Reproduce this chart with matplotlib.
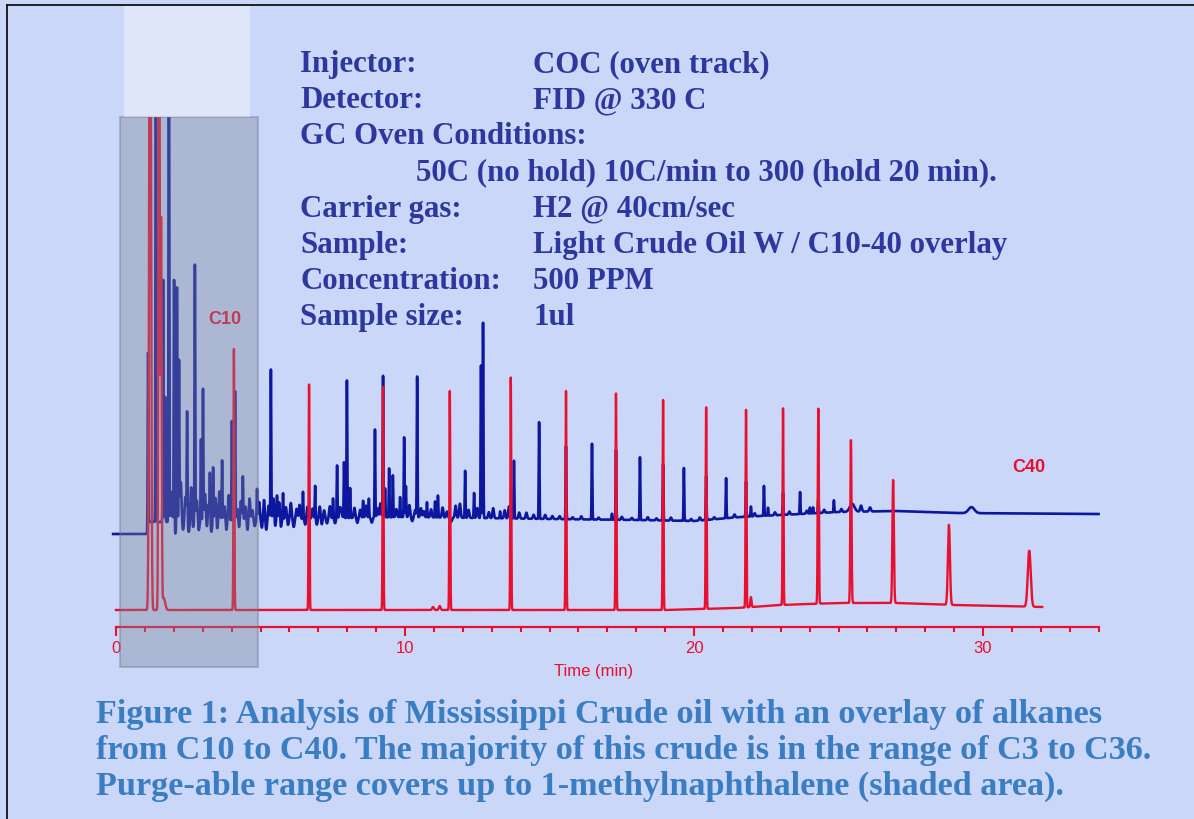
import numpy as np
import matplotlib.pyplot as plt
from matplotlib.patches import Rectangle
from matplotlib.ticker import MultipleLocator

# retention times (min) / peak heights (detector response, arbitrary) / widths (min)
# C10-C40 alkane standard (red)
red_base_t = [0.0, 19.0, 21.5, 23.0, 25.0, 27.0, 29.0, 32.05]
red_base_y = [0, 0, 2, 5, 7, 7, 5, 3]
red_peak_t = [1.18, 1.49, 1.56, 1.65, 4.08, 6.68, 9.24, 10.97, 11.2, 11.55, 13.66, 15.57,
              17.3, 18.93, 20.42, 21.8, 21.97, 23.08, 24.3, 25.43, 26.89, 28.82, 31.6]
red_peak_h = [800, 800, 389, 12, 261, 226, 223, 3, 4, 219, 233, 219,
              217, 210, 202, 198, 10, 197, 195, 163, 123, 80, 56]
red_peak_w = [0.03, 0.02, 0.02, 0.05, 0.015, 0.015, 0.015, 0.03, 0.03, 0.015, 0.015, 0.015,
              0.015, 0.015, 0.015, 0.015, 0.02, 0.015, 0.018, 0.02, 0.025, 0.035, 0.05]

# Mississippi crude oil (blue)
blue_base_t = [-0.1, 1.07, 1.15, 3.0, 6.0, 10.0, 15.0, 18.0, 20.0, 21.6, 23.7, 25.0, 27.0, 29.0, 34.0]
blue_base_y = [76, 76, 88, 88, 91, 93, 91, 90, 89, 93, 96, 98, 99, 97, 96]
blue_peak_t = [1.11, 1.38, 1.63, 1.70, 1.83, 2.01, 2.11, 2.18, 2.46, 2.73, 2.94, 3.01,
               3.25, 3.36, 3.67, 4.01, 4.12, 4.39, 4.88, 5.36, 5.57, 5.78, 6.47, 6.89,
               7.51, 7.65, 7.89, 7.99, 8.10, 8.55, 8.75, 8.96, 9.24, 9.31, 9.45, 9.58,
               9.83, 9.97, 10.03, 10.42, 10.76, 11.04, 11.14, 12.08, 12.39, 12.63, 12.70,
               13.29, 13.77, 14.64, 15.57, 16.47, 17.16, 17.3, 18.13, 18.93, 19.65, 20.42,
               21.11, 21.8, 21.97, 22.42, 22.56, 23.08, 23.67, 24.01, 24.12, 24.3, 24.84,
               25.47, 25.78, 26.09, 29.6]
blue_peak_h = [176, 600, 243, 125, 600, 246, 236, 160, 110, 258, 83, 133,
               48, 55, 61, 100, 130, 44, 31, 150, 24, 26, 27, 33,
               20, 53, 56, 138, 30, 17, 19, 88, 142, 29, 49, 42,
               20, 80, 31, 141, 15, 16, 22, 47, 25, 153, 196,
               7, 58, 97, 73, 76, 6, 70, 63, 56, 53, 44,
               40, 35, 10, 30, 8, 22, 22, 6, 6, 15, 12,
               8, 6, 4, 6]
blue_peak_w = [0.012] * 69 + [0.08, 0.03, 0.03, 0.1]

# baseline ripple of the crude trace
blue_noise_t = [1.92, 2.05, 2.24, 2.32, 2.40, 2.52, 2.60, 2.66, 2.80, 2.86, 3.08, 3.15,
                3.20, 3.30, 3.44, 3.50, 3.58, 3.75, 3.82, 3.90, 4.20, 4.26, 4.32, 4.48,
                4.55, 4.62, 4.72, 4.80, 4.95, 5.05, 5.12, 5.20, 5.28, 5.45, 5.50, 5.65,
                5.70, 5.88, 5.95, 6.05, 6.15, 6.25, 6.35, 6.55, 6.62, 6.80, 6.95, 7.05,
                7.12, 7.20, 7.30, 7.40, 7.58, 7.75, 7.80, 8.25, 8.35, 8.45, 8.65, 8.85,
                9.05, 9.15, 9.70, 10.15, 10.25, 10.35, 10.55, 10.65, 10.90, 11.30, 11.45,
                11.60, 11.75, 11.90, 12.20, 12.50, 12.90, 13.05, 13.45, 13.60, 13.95, 14.20,
                14.45, 14.85, 15.10, 15.35, 15.80, 16.10, 16.70, 17.50, 17.85, 18.40, 18.70,
                19.20, 19.90, 20.20, 20.70, 21.40, 22.10, 22.80, 23.30, 23.90, 24.50, 25.10]
blue_noise_h = [30, -12, 40, -8, 25, -10, 35, -6, 22, -9, 28, -7,
                18, -10, 24, -8, 30, 15, -9, 26, 12, -8, 20, 14,
                -10, 22, 10, -6, 18, -8, 20, -10, 14, 22, -8, 18,
                -9, 12, -6, 16, -8, 10, 14, -6, 12, 10, -6, 12,
                -6, 8, -5, 12, -5, 10, 6, 10, -5, 8, 12, -5,
                9, 14, 8, 12, -4, 7, 9, 6, 8, 10, 6,
                -4, 12, 14, 8, 10, 6, 10, 8, 12, 6, 6,
                4, 4, 3, 3, 2, 3, 2, 3, 2, 3, 2,
                3, 2, 3, 2, 3, 3, 3, 3, 3, 3, 3]


def chromatogram(t, base_t, base_y, pk_t, pk_h, pk_w):
    y = np.interp(t, base_t, base_y)
    for tp, h, w in zip(pk_t, pk_h, pk_w):
        y = y + h * np.exp(-0.5 * ((t - tp) / w) ** 2)
    return y


t_red = np.arange(0.0, 32.05, 0.003)
t_blue = np.arange(-0.1, 34.0, 0.003)
y_red = chromatogram(t_red, red_base_t, red_base_y, red_peak_t, red_peak_h, red_peak_w)
y_blue = chromatogram(t_blue, blue_base_t, blue_base_y, blue_peak_t, blue_peak_h, blue_peak_w)
y_blue = y_blue + chromatogram(t_blue, [0], [0], blue_noise_t, blue_noise_h, [0.025] * len(blue_noise_t))

RED = "#e8102e"
BLUE = "#0c169e"
BG = "#cad7f8"

fig = plt.figure(figsize=(11.94, 8.2), dpi=100, facecolor=BG)
ax = fig.add_axes([100 / 1194, 130 / 820, 1010 / 1194, 572 / 820])
ax.set_facecolor("none")
ax.set_xlim(-0.5536, 34.394)
ax.set_ylim(-79, 493)

ax.plot(t_blue, y_blue, color=BLUE, lw=1.9, zorder=2)
ax.plot(t_red, y_red, color=RED, lw=1.7, zorder=3)

ax.text(3.76, 291, "C10", color=RED, fontsize=13, fontweight="bold",
        family="Liberation Sans", ha="center", va="center", zorder=3)
ax.text(31.6, 144, "C40", color=RED, fontsize=13, fontweight="bold",
        family="Liberation Sans", ha="center", va="center", zorder=3)

# purge-able range (shaded)
ax.add_patch(Rectangle((0.138, -57), 4.77, 550, facecolor="#7c8598", alpha=0.38,
                       edgecolor="#6f7585", lw=1.5, zorder=5, clip_on=False))
ax.add_patch(Rectangle((0.28, 493), 4.36, 112, facecolor="white", alpha=0.4,
                       edgecolor="none", zorder=5, clip_on=False))

# time axis
for s in ["left", "right", "top"]:
    ax.spines[s].set_visible(False)
ax.spines["bottom"].set_position(("data", -17))
ax.spines["bottom"].set_bounds(0, 34)
ax.spines["bottom"].set_color(RED)
ax.spines["bottom"].set_linewidth(1.6)
ax.set_yticks([])
ax.xaxis.set_major_locator(MultipleLocator(10))
ax.xaxis.set_minor_locator(MultipleLocator(1))
ax.tick_params(axis="x", which="major", direction="out", length=6.5, width=1.5,
               color=RED, labelcolor=RED, labelsize=12, pad=3)
ax.tick_params(axis="x", which="minor", direction="out", length=3.6, width=1.5, color=RED)
for lab in ax.get_xticklabels():
    lab.set_family("Liberation Sans")
ax.text(0.489, 0.033, "Time (min)", transform=ax.transAxes, color=RED, fontsize=12,
        family="Liberation Sans", ha="center", va="center")

# run conditions
NAVY = "#2d389f"
hdr = dict(color=NAVY, fontsize=22.2, fontweight="bold", family="Liberation Serif", va="baseline")
labels = ["Injector:", "Detector:", "GC Oven Conditions:", None, "Carrier gas:", "Sample:",
          "Concentration:", "Sample size:"]
values = ["COC (oven track)", "FID @ 330 C", None, None, "H2 @ 40cm/sec",
          "Light Crude Oil W / C10-40 overlay", "500 PPM", "1ul"]
for i, (lab, val) in enumerate(zip(labels, values)):
    yb = 1 - (72 + 36.15 * i) / 820
    if lab:
        fig.text(300 / 1194, yb, lab, **hdr)
    if val:
        fig.text(533 / 1194, yb, val, **hdr)
fig.text(416 / 1194, 1 - (72 + 36.15 * 3) / 820,
         "50C (no hold) 10C/min to 300 (hold 20 min).", **hdr)

caption = ["Figure 1: Analysis of Mississippi Crude oil with an overlay of alkanes",
           "from C10 to C40. The majority of this crude is in the range of C3 to C36.",
           "Purge-able range covers up to 1-methylnaphthalene (shaded area)."]
for i, line in enumerate(caption):
    fig.text(96 / 1194, 1 - (723 + 36 * i) / 820, line, color="#3b7dc3", fontsize=24.6,
             fontweight="bold", family="Liberation Serif", va="baseline")

# page frame
fig.add_artist(plt.Line2D([7 / 1194, 1], [1 - 6 / 820, 1 - 6 / 820], color="black", lw=1.2))
fig.add_artist(plt.Line2D([7 / 1194, 7 / 1194], [0, 1 - 6 / 820], color="black", lw=1.2))

fig.savefig("out.png", dpi=100, facecolor=BG)
